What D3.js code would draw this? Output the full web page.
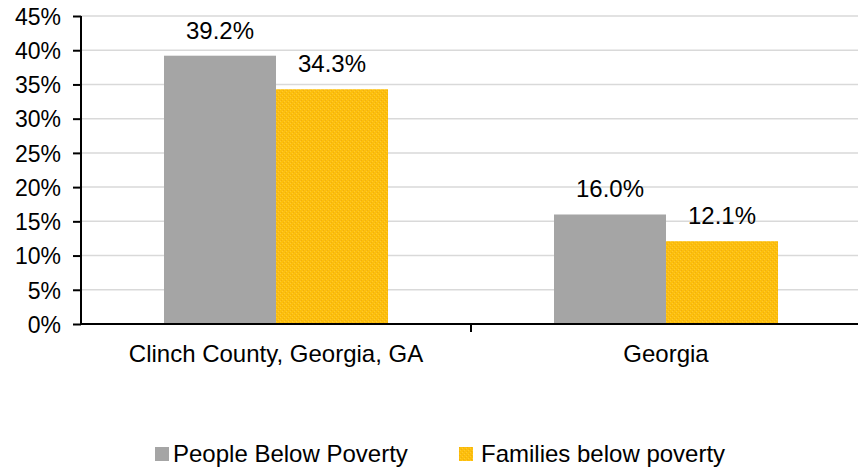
<!DOCTYPE html>
<html lang="en">
	<head>
		<meta charset="utf-8">
		<title>Poverty rates</title>
		<script type="text/javascript" src="https://d3js.org/d3.v7.min.js"></script>
		<style type="text/css">
			body { margin: 0; background: #fff; }
			text { font-family: "Liberation Sans", Arial, sans-serif; fill: #000; }
		</style>
	</head>
	<body>
		<script type="text/javascript">

			// data
			var categories = ["Clinch County, Georgia, GA", "Georgia"];
			var seriesNames = ["People Below Poverty", "Families below poverty"];
			var peopleBelow = [0.392, 0.160];
			var familiesBelow = [0.343, 0.121];
			var yTicks = [0, 0.05, 0.10, 0.15, 0.20, 0.25, 0.30, 0.35, 0.40, 0.45];

			//Width and height
			var w = 858;
			var h = 468;

			var svg = d3.select("body")
						.append("svg")
						.attr("width", w)
						.attr("height", h);

			// gold texture fill
			var defs = svg.append("defs");
			var pat = defs.append("pattern")
				.attr("id", "goldTex")
				.attr("patternUnits", "userSpaceOnUse")
				.attr("width", 4)
				.attr("height", 4);
			pat.append("rect").attr("width", 4).attr("height", 4).attr("fill", "#fdbf0c");
			pat.append("rect").attr("x", 0).attr("y", 0).attr("width", 1).attr("height", 1).attr("fill", "#efb012");
			pat.append("rect").attr("x", 2).attr("y", 2).attr("width", 1).attr("height", 1).attr("fill", "#efb012");
			pat.append("rect").attr("x", 3).attr("y", 1).attr("width", 1).attr("height", 1).attr("fill", "#ffc92e");
			pat.append("rect").attr("x", 1).attr("y", 3).attr("width", 1).attr("height", 1).attr("fill", "#ffc92e");

			var colors = ["#a5a5a5", "url(#goldTex)"];

			var x0 = d3.scaleBand()
				.domain(categories)
				.range([81, 861]);

			var x1 = d3.scaleBand()
				.domain(seriesNames)
				.range([0, x0.bandwidth()])
				.paddingOuter(0.741);

			var y = d3.scaleLinear()
				.domain([0, 0.45])
				.range([324, 16]);

			// gridlines
			svg.append("g")
				.selectAll("line")
				.data(yTicks.slice(1))
				.enter()
				.append("line")
				.attr("x1", 81)
				.attr("x2", 861)
				.attr("y1", function(d) { return y(d); })
				.attr("y2", function(d) { return y(d); })
				.attr("stroke", "#d9d9d9")
				.attr("stroke-width", 1.5);

			// bars
			var rows = categories.map(function(c, i) {
				return [
					{ cat: c, s: seriesNames[0], v: peopleBelow[i], k: 0 },
					{ cat: c, s: seriesNames[1], v: familiesBelow[i], k: 1 }
				];
			});

			var groups = svg.selectAll("g.grp")
				.data(rows)
				.enter()
				.append("g")
				.attr("class", "grp")
				.attr("transform", function(d, i) { return "translate(" + x0(categories[i]) + ",0)"; });

			groups.selectAll("rect")
				.data(function(d) { return d; })
				.enter()
				.append("rect")
				.attr("x", function(d) { return x1(d.s); })
				.attr("width", x1.bandwidth())
				.attr("y", function(d) { return y(d.v); })
				.attr("height", function(d) { return y(0) - y(d.v); })
				.attr("fill", function(d) { return colors[d.k]; });

			groups.selectAll("text")
				.data(function(d) { return d; })
				.enter()
				.append("text")
				.attr("x", function(d) { return x1(d.s) + x1.bandwidth() / 2; })
				.attr("y", function(d) { return y(d.v) - 17; })
				.attr("text-anchor", "middle")
				.style("font-size", "24px")
				.text(function(d) { return d3.format(".1%")(d.v); });

			// y axis
			var yAxis = d3.axisLeft(y)
				.tickValues(yTicks)
				.tickSize(8)
				.tickPadding(12)
				.tickFormat(d3.format(".0%"));

			var gy = svg.append("g")
				.attr("transform", "translate(81,0)")
				.call(yAxis);
			gy.select(".domain").attr("stroke", "#000").attr("stroke-width", 2).attr("d", "M0,16V324");
			gy.selectAll(".tick line").attr("stroke", "#000").attr("stroke-width", 2);
			gy.selectAll(".tick text").style("font-size", "23px").attr("dy", "0.36em");

			// x axis
			var xAxis = d3.axisBottom(x0)
				.tickSize(0)
				.tickPadding(21);

			var gx = svg.append("g")
				.attr("transform", "translate(0,324)")
				.call(xAxis);
			gx.select(".domain").attr("stroke", "#000").attr("stroke-width", 2).attr("d", "M80,0H861");
			gx.selectAll(".tick text").style("font-size", "24px").attr("dy", "0.71em");

			// separator tick between categories
			gx.append("line")
				.attr("x1", x0(categories[1]))
				.attr("x2", x0(categories[1]))
				.attr("y1", 0)
				.attr("y2", 8)
				.attr("stroke", "#000")
				.attr("stroke-width", 2);

			// legend
			var legendX = [155, 459];
			var leg = svg.selectAll("g.leg")
				.data(seriesNames)
				.enter()
				.append("g")
				.attr("class", "leg")
				.attr("transform", function(d, i) { return "translate(" + legendX[i] + ",447)"; });

			leg.append("rect")
				.attr("width", 14)
				.attr("height", 14)
				.attr("fill", function(d, i) { return colors[i]; });

			leg.append("text")
				.attr("x", function(d, i) { return i == 0 ? 18 : 22; })
				.attr("y", 15)
				.style("font-size", "24px")
				.text(function(d) { return d; });

		</script>
	</body>
</html>
